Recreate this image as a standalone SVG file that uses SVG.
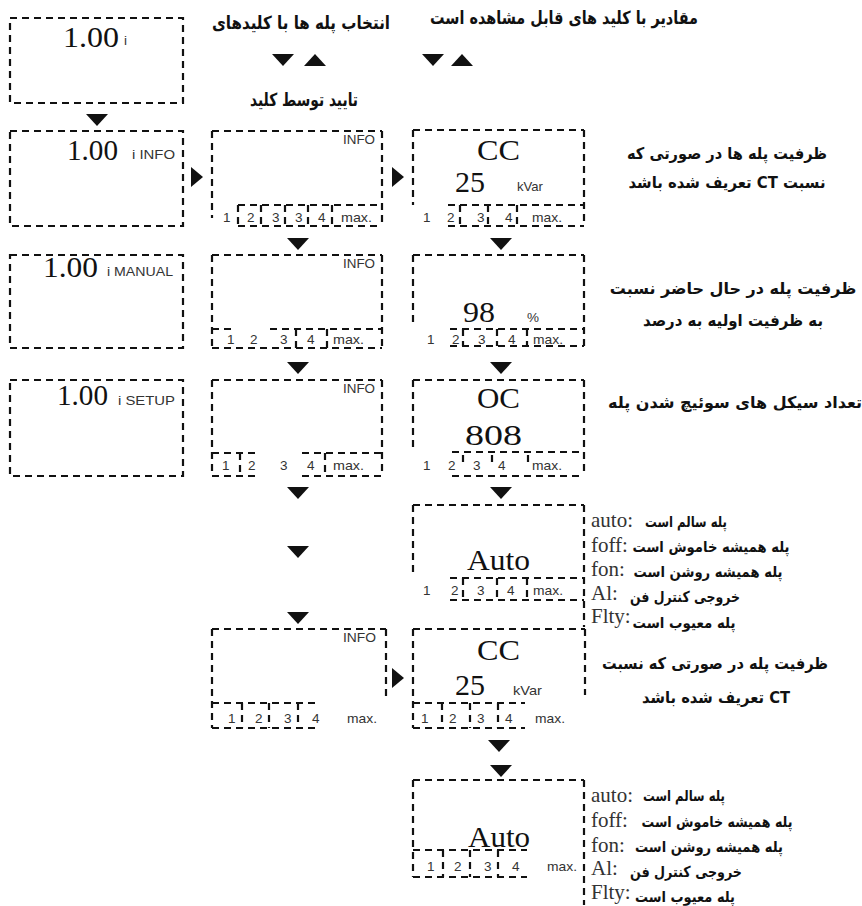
<svg xmlns="http://www.w3.org/2000/svg" xmlns:xlink="http://www.w3.org/1999/xlink" width="862" height="906" viewBox="0 0 862 906">
<style>
.b{fill:none;stroke:#111;stroke-width:2.2;stroke-dasharray:7 5}
.big{font-family:"Liberation Serif",serif;font-size:30px;fill:#111}
.sm{font-family:"Liberation Sans",Arial,sans-serif;font-size:13.5px;fill:#333}
.fa{font-family:"DejaVu Sans",sans-serif;font-weight:bold;font-size:18px;fill:#111}
.fn{font-family:"DejaVu Sans",sans-serif;font-weight:bold;font-size:16px;fill:#111}
.fs{font-family:"DejaVu Sans",sans-serif;font-weight:bold;font-size:15px;fill:#111}
.lab{font-family:"Liberation Serif",serif;font-size:21px;fill:#333}
.tri{fill:#111}
</style>
<defs>
<path id="dn" d="M0,0 L22,0 L11,12 Z"/>
<path id="up" d="M0,12 L22,12 L11,0 Z"/>
<path id="rt" d="M0,0 L12,10 L0,20 Z"/>
</defs>
<rect width="862" height="906" fill="#fff"/>

<g id="headers">
<text class="fa" x="301" y="29" text-anchor="middle" textLength="178" lengthAdjust="spacingAndGlyphs">انتخاب پله ها با کلیدهای</text>
<text class="fa" x="564" y="24" text-anchor="middle" textLength="268" lengthAdjust="spacingAndGlyphs">مقادیر با کلید های قابل مشاهده است</text>
<text class="fa" x="304" y="106" text-anchor="middle" textLength="108" lengthAdjust="spacingAndGlyphs">تایید توسط کلید</text>
</g>

<g id="notes">
<text class="fn" x="727" y="159" text-anchor="middle" textLength="200" lengthAdjust="spacingAndGlyphs">ظرفیت پله ها در صورتی که</text>
<text class="fn" x="727" y="188" text-anchor="middle" direction="rtl" textLength="197" lengthAdjust="spacingAndGlyphs">نسبت CT تعریف شده باشد</text>
<text class="fn" x="733" y="294" text-anchor="middle" font-size="13.3">ظرفیت پله در حال حاضر نسبت</text>
<text class="fn" x="733" y="326" text-anchor="middle" textLength="180" lengthAdjust="spacingAndGlyphs">به ظرفیت اولیه به درصد</text>
<text class="fn" x="735" y="408" text-anchor="middle" font-size="13.3">تعداد سیکل های سوئیچ شدن پله</text>
<text class="fn" x="715" y="669" text-anchor="middle" textLength="226" lengthAdjust="spacingAndGlyphs">ظرفیت پله در صورتی که نسبت</text>
<text class="fn" x="716" y="703" text-anchor="middle" direction="rtl" textLength="148" lengthAdjust="spacingAndGlyphs">CT تعریف شده باشد</text>
</g>

<g id="connectors">
<use href="#dn" class="tri" x="272" y="54"/>
<use href="#up" class="tri" x="304" y="54"/>
<use href="#dn" class="tri" x="422" y="54"/>
<use href="#up" class="tri" x="451" y="54"/>
<use href="#dn" class="tri" x="86" y="114"/>
<use href="#rt" class="tri" x="191" y="167"/>
<use href="#rt" class="tri" x="392" y="167"/>
<use href="#dn" class="tri" x="287" y="238"/>
<use href="#dn" class="tri" x="490" y="238"/>
<use href="#dn" class="tri" x="287" y="362"/>
<use href="#dn" class="tri" x="490" y="362"/>
<use href="#dn" class="tri" x="287" y="487"/>
<use href="#dn" class="tri" x="490" y="487"/>
<use href="#dn" class="tri" x="287" y="546"/>
<use href="#dn" class="tri" x="287" y="612"/>
<use href="#rt" class="tri" x="392" y="668"/>
<use href="#dn" class="tri" x="488" y="740"/>
<use href="#dn" class="tri" x="490" y="765"/>
</g>

<g id="screen-start">
<rect class="b" x="10" y="18" width="173" height="85"/>
<text class="big" x="63" y="47" textLength="56" lengthAdjust="spacingAndGlyphs">1.00</text>
<text class="sm" x="124" y="45" font-size="11">i</text>
</g>

<g id="screen-info">
<rect class="b" x="10" y="131" width="173" height="95"/>
<text class="big" x="67" y="160" textLength="51" lengthAdjust="spacingAndGlyphs">1.00</text>
<text class="sm" x="132" y="159" textLength="43" lengthAdjust="spacingAndGlyphs">i INFO</text>
</g>

<g id="screen-steps-1">
<path class="b" d="M212,131H382M382,131V226M212,131V218M238,226H382M238,205H382M238,205V226M261,205V226M285,205V226M308,205V226M332,205V226"/>
<text class="sm" x="343" y="144" textLength="32" lengthAdjust="spacingAndGlyphs">INFO</text>
<text class="sm" x="223" y="222">1</text>
<text class="sm" x="247" y="222">2</text>
<text class="sm" x="272" y="222">3</text>
<text class="sm" x="295" y="222">3</text>
<text class="sm" x="318" y="222">4</text>
<text class="sm" x="341" y="222" textLength="31" lengthAdjust="spacingAndGlyphs">max.</text>
</g>

<g id="screen-cc-1">
<path class="b" d="M413,130H584M584,130V226M413,130V205M448,205H584M448,226H584M460,205V226M488,205V226M517,205V226"/>
<text class="big" x="477" y="160" textLength="43" lengthAdjust="spacingAndGlyphs">CC</text>
<text class="big" x="455" y="192" textLength="30" lengthAdjust="spacingAndGlyphs">25</text>
<text class="sm" x="517" y="191" font-size="12" textLength="26" lengthAdjust="spacingAndGlyphs">kVar</text>
<text class="sm" x="423" y="222">1</text>
<text class="sm" x="447" y="222">2</text>
<text class="sm" x="477" y="222">3</text>
<text class="sm" x="505" y="222">4</text>
<text class="sm" x="532" y="222" textLength="30" lengthAdjust="spacingAndGlyphs">max.</text>
</g>

<g id="screen-manual">
<rect class="b" x="10" y="255" width="173" height="93"/>
<text class="big" x="43" y="277" textLength="55" lengthAdjust="spacingAndGlyphs">1.00</text>
<text class="sm" x="107" y="276" textLength="66" lengthAdjust="spacingAndGlyphs">i MANUAL</text>
</g>

<g id="screen-steps-2">
<path class="b" d="M212,255H382M212,255V348M382,255V348M212,348H382M212,329H233M270,329H382M296,329V348M327,329V348"/>
<text class="sm" x="343" y="268" textLength="32" lengthAdjust="spacingAndGlyphs">INFO</text>
<text class="sm" x="227" y="344">1</text>
<text class="sm" x="250" y="344">2</text>
<text class="sm" x="280" y="344">3</text>
<text class="sm" x="307" y="344">4</text>
<text class="sm" x="333" y="344" textLength="31" lengthAdjust="spacingAndGlyphs">max.</text>
</g>

<g id="screen-percent">
<path class="b" d="M413,255H584M413,255V322M584,255V346M450,329H584M450,346H584M463,329V346M497,329V346M527,329V346"/>
<text class="big" x="463" y="322" textLength="32" lengthAdjust="spacingAndGlyphs">98</text>
<text class="sm" x="527" y="322" font-size="11">%</text>
<text class="sm" x="427" y="344">1</text>
<text class="sm" x="452" y="344">2</text>
<text class="sm" x="478" y="344">3</text>
<text class="sm" x="508" y="344">4</text>
<text class="sm" x="533" y="344" textLength="30" lengthAdjust="spacingAndGlyphs">max.</text>
</g>

<g id="screen-setup">
<rect class="b" x="10" y="380" width="173" height="96"/>
<text class="big" x="57" y="405" textLength="51" lengthAdjust="spacingAndGlyphs">1.00</text>
<text class="sm" x="118" y="405" textLength="57" lengthAdjust="spacingAndGlyphs">i SETUP</text>
</g>

<g id="screen-steps-3">
<path class="b" d="M212,380H382M212,380V476M382,380V476M212,453H260M302,453H382M212,476H260M302,476H382M240,453V476M325,453V476"/>
<text class="sm" x="343" y="393" textLength="32" lengthAdjust="spacingAndGlyphs">INFO</text>
<text class="sm" x="222" y="470">1</text>
<text class="sm" x="248" y="470">2</text>
<text class="sm" x="280" y="470">3</text>
<text class="sm" x="307" y="470">4</text>
<text class="sm" x="333" y="470" textLength="31" lengthAdjust="spacingAndGlyphs">max.</text>
</g>

<g id="screen-oc">
<path class="b" d="M413,380H584M413,380V452M584,380V476M452,452H584M452,476H584M463,455V463M492,455V463M528,455V463"/>
<text class="big" x="477" y="408" textLength="43" lengthAdjust="spacingAndGlyphs">OC</text>
<text class="big" x="465" y="445" textLength="57" lengthAdjust="spacingAndGlyphs">808</text>
<text class="sm" x="423" y="470">1</text>
<text class="sm" x="448" y="470">2</text>
<text class="sm" x="473" y="470">3</text>
<text class="sm" x="498" y="470">4</text>
<text class="sm" x="532" y="470" textLength="30" lengthAdjust="spacingAndGlyphs">max.</text>
</g>

<g id="screen-auto-1">
<path class="b" d="M413,505H584M413,505V573M584,505V627M450,578H584M450,600H584M463,578V600M497,578V600M527,578V600"/>
<text class="big" x="467" y="570" textLength="63" lengthAdjust="spacingAndGlyphs">Auto</text>
<text class="sm" x="423" y="595">1</text>
<text class="sm" x="451" y="595">2</text>
<text class="sm" x="477" y="595">3</text>
<text class="sm" x="507" y="595">4</text>
<text class="sm" x="533" y="595" textLength="30" lengthAdjust="spacingAndGlyphs">max.</text>
<text class="lab" x="591" y="527">auto:</text>
<text class="lab" x="591" y="552">foff:</text>
<text class="lab" x="591" y="576">fon:</text>
<text class="lab" x="591" y="600">Al:</text>
<text class="lab" x="591" y="623">Flty:</text>
<text class="fs" x="686" y="527" text-anchor="middle" textLength="82" lengthAdjust="spacingAndGlyphs">پله سالم است</text>
<text class="fs" x="711" y="552" text-anchor="middle" textLength="157" lengthAdjust="spacingAndGlyphs">پله همیشه خاموش است</text>
<text class="fs" x="708" y="577" text-anchor="middle" textLength="149" lengthAdjust="spacingAndGlyphs">پله همیشه روشن است</text>
<text class="fs" x="685" y="602" text-anchor="middle" textLength="110" lengthAdjust="spacingAndGlyphs">خروجی کنترل فن</text>
<text class="fs" x="684" y="628" text-anchor="middle" textLength="103" lengthAdjust="spacingAndGlyphs">پله معیوب است</text>
</g>

<g id="screen-steps-4">
<path class="b" d="M212,629H386M212,629V728M386,629V697M212,703H317M212,728H317M242,703V728M269,703V728M298,703V728"/>
<text class="sm" x="343" y="642" textLength="33" lengthAdjust="spacingAndGlyphs">INFO</text>
<text class="sm" x="228" y="723">1</text>
<text class="sm" x="255" y="723">2</text>
<text class="sm" x="284" y="723">3</text>
<text class="sm" x="312" y="723">4</text>
<text class="sm" x="347" y="723" textLength="30" lengthAdjust="spacingAndGlyphs">max.</text>
</g>

<g id="screen-cc-2">
<path class="b" d="M413,629H585M413,629V728M585,629V695M413,703H525M413,728H525M442,703V728M470,703V728M498,703V728"/>
<text class="big" x="477" y="660" textLength="43" lengthAdjust="spacingAndGlyphs">CC</text>
<text class="big" x="455" y="695" textLength="30" lengthAdjust="spacingAndGlyphs">25</text>
<text class="sm" x="513" y="695" font-size="12" textLength="29" lengthAdjust="spacingAndGlyphs">kVar</text>
<text class="sm" x="421" y="723">1</text>
<text class="sm" x="449" y="723">2</text>
<text class="sm" x="477" y="723">3</text>
<text class="sm" x="505" y="723">4</text>
<text class="sm" x="535" y="723" textLength="30" lengthAdjust="spacingAndGlyphs">max.</text>
</g>

<g id="screen-auto-2">
<path class="b" d="M413,780H584M413,780V877M584,780V905M413,850H527M413,877H527M443,850V877M470,850V877M498,850V877"/>
<text class="big" x="468" y="847" textLength="62" lengthAdjust="spacingAndGlyphs">Auto</text>
<text class="sm" x="427" y="871">1</text>
<text class="sm" x="454" y="871">2</text>
<text class="sm" x="484" y="871">3</text>
<text class="sm" x="512" y="871">4</text>
<text class="sm" x="547" y="871" textLength="30" lengthAdjust="spacingAndGlyphs">max.</text>
<text class="lab" x="591" y="802">auto:</text>
<text class="lab" x="591" y="827">foff:</text>
<text class="lab" x="591" y="852">fon:</text>
<text class="lab" x="591" y="875">Al:</text>
<text class="lab" x="591" y="899">Flty:</text>
<text class="fs" x="684" y="801" text-anchor="middle" textLength="82" lengthAdjust="spacingAndGlyphs">پله سالم است</text>
<text class="fs" x="717" y="827" text-anchor="middle" textLength="151" lengthAdjust="spacingAndGlyphs">پله همیشه خاموش است</text>
<text class="fs" x="709" y="852" text-anchor="middle" textLength="148" lengthAdjust="spacingAndGlyphs">پله همیشه روشن است</text>
<text class="fs" x="686" y="877" text-anchor="middle" textLength="112" lengthAdjust="spacingAndGlyphs">خروجی کنترل فن</text>
<text class="fs" x="685" y="902" text-anchor="middle" textLength="100" lengthAdjust="spacingAndGlyphs">پله معیوب است</text>
</g>
</svg>
